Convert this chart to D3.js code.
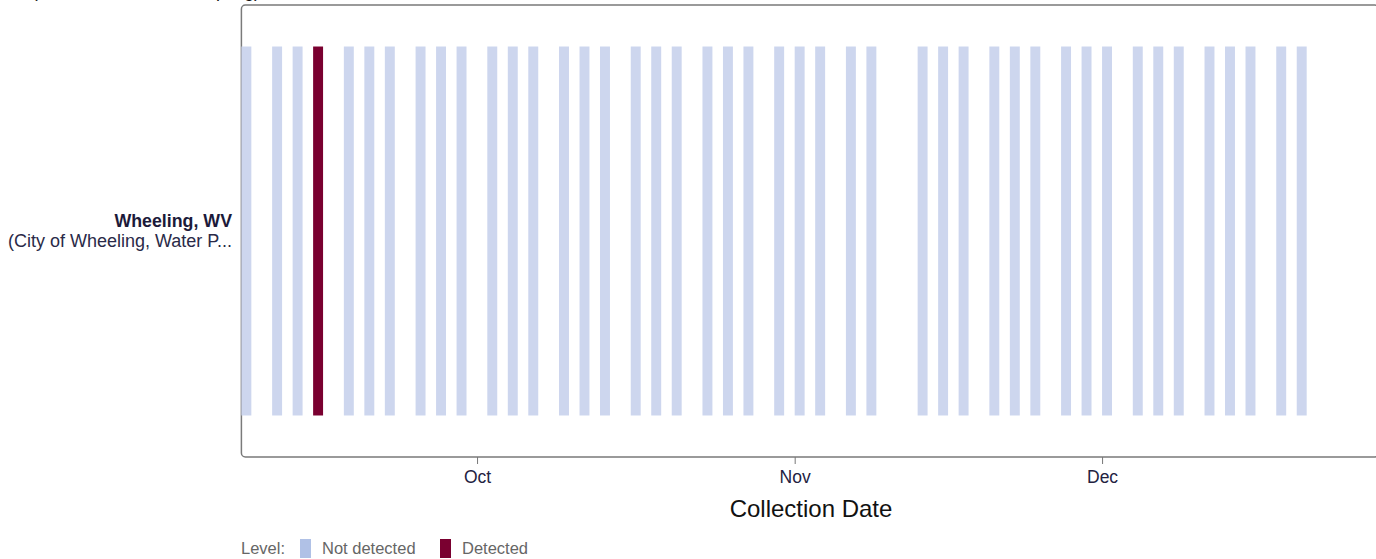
<!DOCTYPE html>
<html>
<head>
<meta charset="utf-8">
<script src="https://cdn.jsdelivr.net/npm/d3@7"></script>
<style>
  body { margin: 0; background: #fff; font-family: "Liberation Sans", Arial, sans-serif; overflow: hidden; }
</style>
</head>
<body>
<div id="chart"></div>
<script>

// sampling dates (Mon/Wed/Fri schedule), level per date
var sampleDates = [
    "2023-09-08", "2023-09-11", "2023-09-13", "2023-09-15", "2023-09-18", "2023-09-20", "2023-09-22",
    "2023-09-25", "2023-09-27", "2023-09-29", "2023-10-02", "2023-10-04", "2023-10-06", "2023-10-09",
    "2023-10-11", "2023-10-13", "2023-10-16", "2023-10-18", "2023-10-20", "2023-10-23", "2023-10-25",
    "2023-10-27", "2023-10-30", "2023-11-01", "2023-11-03", "2023-11-06", "2023-11-08", "2023-11-13",
    "2023-11-15", "2023-11-17", "2023-11-20", "2023-11-22", "2023-11-24", "2023-11-27", "2023-11-29",
    "2023-12-01", "2023-12-04", "2023-12-06", "2023-12-08", "2023-12-11", "2023-12-13", "2023-12-15",
    "2023-12-18", "2023-12-20"
];
var detectedDates = ["2023-09-15"];
var sites = ["Wheeling, WV"];
var siteSubtitles = ["(City of Wheeling, Water P..."];
var levels = ["Not detected", "Detected"];
var tickMonths = ["2023-10-01", "2023-11-01", "2023-12-01"];
var xDomain = ["2023-09-08", "2023-12-28"];

const W = 1376, H = 559;
const parse = d3.utcParse("%Y-%m-%d");

var data = sampleDates.map(function (d) {
    return {
        site: sites[0],
        date: parse(d),
        level: detectedDates.indexOf(d) >= 0 ? "Detected" : "Not detected"
    };
});

const svg = d3.select("#chart")
    .append("svg")
    .attr("width", W)
    .attr("height", H);

const plotLeft = 241.4, plotTop = 5, plotBottom = 457;
const pxPerDay = 10.246;

var xScale = d3.scaleUtc()
    .domain(xDomain.map(parse))
    .range([plotLeft, plotLeft + 111 * pxPerDay]);

var yScale = d3.scaleBand()
    .domain(sites)
    .range([plotTop, plotBottom])
    .paddingInner(0)
    .paddingOuter(0.1125);

var color = d3.scaleOrdinal()
    .domain(levels)
    .range(["#cdd6ee", "#7a0030"]);

var legendColor = d3.scaleOrdinal()
    .domain(levels)
    .range(["#b0c1e6", "#7a0030"]);

// title (mostly above the visible area, only descenders show)
svg.append("text")
    .attr("x", 260)
    .attr("y", -3)
    .attr("text-anchor", "end")
    .style("font-size", "18px")
    .style("fill", "#111")
    .text("Wastewater monitoring, Wheeling, WV (Influenza A, 2023 sampling)");

// frame
svg.append("rect")
    .attr("x", plotLeft)
    .attr("y", plotTop)
    .attr("width", xScale.range()[1] - plotLeft)
    .attr("height", plotBottom - plotTop)
    .attr("rx", 4)
    .attr("ry", 4)
    .style("fill", "none")
    .style("stroke", "#7a7a7a")
    .style("stroke-width", 1.5);

// bars
svg.selectAll("rect.bar")
    .data(data)
    .enter()
    .append("rect")
    .attr("class", "bar")
    .attr("x", function (d) { return xScale(d.date); })
    .attr("width", function (d) { return xScale(d3.utcDay.offset(d.date, 1)) - xScale(d.date) - 0.3; })
    .attr("y", function (d) { return yScale(d.site); })
    .attr("height", yScale.bandwidth())
    .style("fill", function (d) { return color(d.level); });

// y labels
var yLab = svg.append("g")
    .selectAll("g")
    .data(sites)
    .enter()
    .append("g")
    .attr("transform", function (d) { return "translate(232," + (yScale(d) + yScale.bandwidth() / 2) + ")"; });

yLab.append("text")
    .attr("text-anchor", "end")
    .attr("y", -4)
    .style("font-size", "17.8px")
    .style("font-weight", "bold")
    .style("fill", "#1c1a3a")
    .text(function (d) { return d; });

yLab.append("text")
    .attr("text-anchor", "end")
    .attr("y", 16)
    .style("font-size", "18px")
    .style("fill", "#2a2a48")
    .text(function (d, i) { return siteSubtitles[i]; });

// x axis
var xAxis = svg.append("g")
    .attr("transform", "translate(0," + plotBottom + ")")
    .call(d3.axisBottom(xScale)
        .tickValues(tickMonths.map(parse))
        .tickFormat(d3.utcFormat("%b"))
        .tickSize(7)
        .tickPadding(7));

xAxis.select(".domain").remove();
xAxis.selectAll(".tick line").style("stroke", "#777");
xAxis.selectAll(".tick text")
    .style("font-size", "17.5px")
    .style("font-family", "Liberation Sans, Arial, sans-serif")
    .style("fill", "#23223f");

svg.append("text")
    .attr("x", 811)
    .attr("y", 517)
    .attr("text-anchor", "middle")
    .style("font-size", "24px")
    .style("fill", "#111")
    .text("Collection Date");

// legend
var legend = svg.append("g").attr("transform", "translate(241,548)");

legend.append("text")
    .attr("x", 0)
    .attr("y", 6)
    .style("font-size", "16.5px")
    .style("fill", "#666")
    .text("Level:");

var items = legend.selectAll("g.item")
    .data(levels)
    .enter()
    .append("g")
    .attr("class", "item")
    .attr("transform", function (d, i) { return "translate(" + (59 + i * 140) + ",0)"; });

items.append("rect")
    .attr("x", 0)
    .attr("y", -9)
    .attr("width", 11)
    .attr("height", 19)
    .style("fill", function (d) { return legendColor(d); });

items.append("text")
    .attr("x", 22)
    .attr("y", 6)
    .style("font-size", "16.5px")
    .style("fill", "#666")
    .text(function (d) { return d; });

</script>
</body>
</html>
